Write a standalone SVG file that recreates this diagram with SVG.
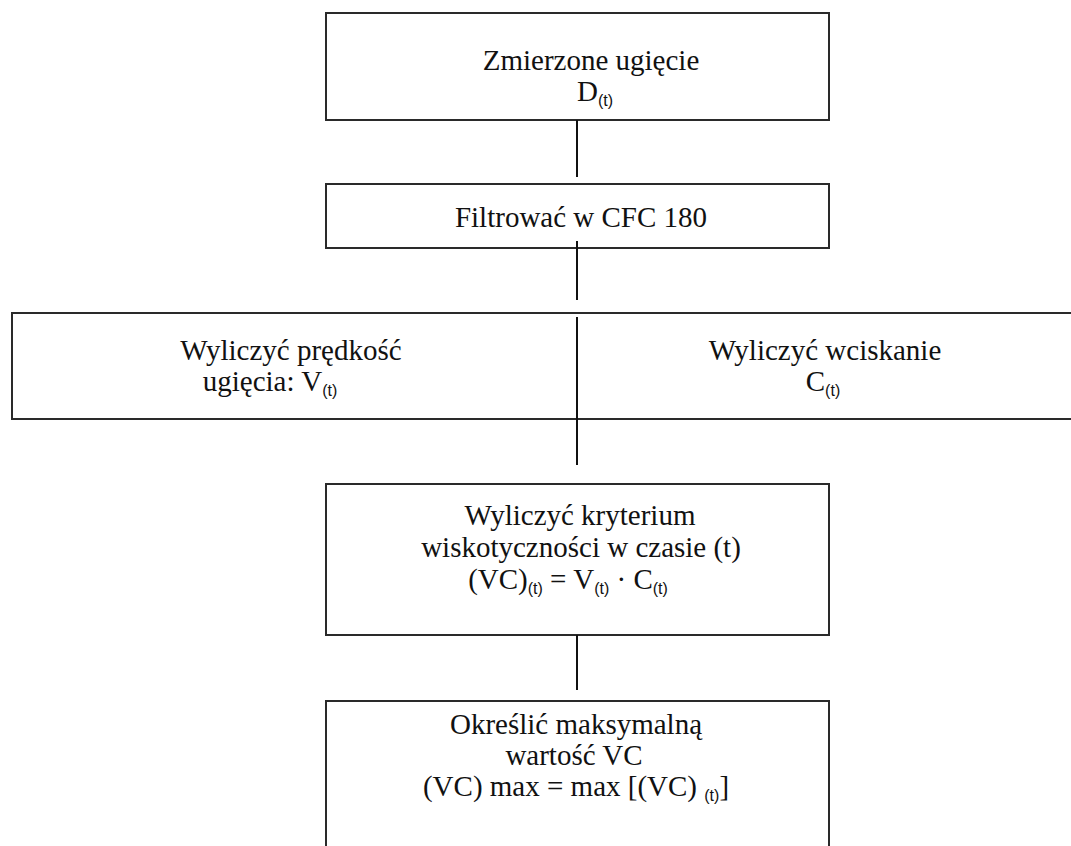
<svg xmlns="http://www.w3.org/2000/svg" width="1071" height="846" viewBox="0 0 1071 846">
<style>
.box{fill:#ffffff;stroke:#2a2a2a;stroke-width:2}
.conn{stroke:#111111;stroke-width:2;fill:none}
.t{font-family:"Liberation Serif","Times New Roman",serif;font-size:29px;fill:#111111;text-anchor:middle}
.s{font-family:"Liberation Sans",Arial,sans-serif;font-size:16px}
</style>
<rect width="1071" height="846" fill="#ffffff"/>
<g id="n1">
<rect class="box" x="326" y="13" width="503" height="107"/>
<text class="t" x="591" y="70">Zmierzone ugięcie</text>
<text class="t" x="595" y="101">D<tspan class="s" dy="5">(t)</tspan></text>
</g>
<g id="n2">
<rect class="box" x="326" y="184" width="503" height="64"/>
<text class="t" x="581" y="227">Filtrować w CFC 180</text>
</g>
<g id="n3">
<rect class="box" x="12" y="313" width="1070" height="106"/>
<text class="t" x="291" y="360">Wyliczyć prędkość</text>
<text class="t" x="270" y="391">ugięcia: V<tspan class="s" dy="5">(t)</tspan></text>
<text class="t" x="825" y="360">Wyliczyć wciskanie</text>
<text class="t" x="823" y="391">C<tspan class="s" dy="5">(t)</tspan></text>
</g>
<g id="n4">
<rect class="box" x="326" y="484" width="503" height="151"/>
<text class="t" x="580" y="525">Wyliczyć kryterium</text>
<text class="t" x="581" y="557">wiskotyczności w czasie (t)</text>
<text class="t" x="568" y="589">(VC)<tspan class="s" dy="5">(t)</tspan><tspan dy="-5"> = V</tspan><tspan class="s" dy="5">(t)</tspan><tspan dy="-5"> · C</tspan><tspan class="s" dy="5">(t)</tspan></text>
</g>
<g id="n5">
<rect class="box" x="326" y="701" width="503" height="170"/>
<text class="t" x="576" y="734">Określić maksymalną</text>
<text class="t" x="574" y="765">wartość VC</text>
<text class="t" x="576" y="796">(VC) max = max [(VC) <tspan class="s" dy="5">(t)</tspan><tspan dy="-5">]</tspan></text>
</g>
<g id="connectors">
<line class="conn" x1="577" y1="120" x2="577" y2="177"/>
<line class="conn" x1="577" y1="241" x2="577" y2="300"/>
<line class="conn" x1="577" y1="317" x2="577" y2="465"/>
<line class="conn" x1="577" y1="635" x2="577" y2="690"/>
</g>
</svg>
